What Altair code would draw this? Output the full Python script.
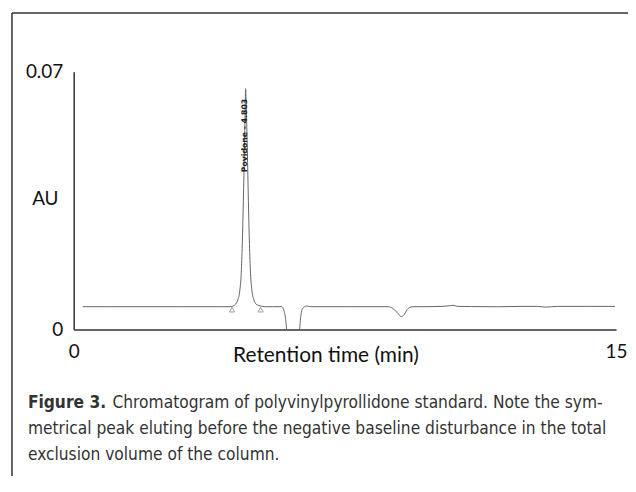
import altair as alt
import pandas as pd

# Chromatogram trace (time in min, absorbance in AU)
time = [0.25, 1.0, 2.0, 3.0, 4.0, 4.349, 4.459, 4.542, 4.597, 4.638, 4.666, 4.693, 4.721, 4.743, 4.754,
        4.775, 4.803, 4.831, 4.858, 4.886, 4.927, 4.982, 5.065, 5.175, 5.285, 5.5, 5.753, 5.808, 5.863,
        5.89, 6.056, 6.248, 6.276, 6.317, 6.386, 6.44, 6.55, 7.5, 8.698, 8.836, 8.973, 9.056, 9.138,
        9.221, 9.304, 9.414, 9.8, 10.35, 10.49, 10.62, 11.0, 11.73, 12.4, 12.83, 13.05, 13.38, 14.2, 14.97]
au = [0.00622, 0.00622, 0.00622, 0.00622, 0.00622, 0.00622, 0.00676, 0.00811, 0.01081, 0.01622, 0.02432,
      0.03514, 0.04865, 0.05946, 0.06541, 0.05946, 0.04865, 0.03514, 0.02432, 0.01622, 0.01081, 0.00811,
      0.00676, 0.00640, 0.00622, 0.00622, 0.00622, 0.00540, 0.00270, 0.0, -0.01, 0.0, 0.00320, 0.00540,
      0.00622, 0.00640, 0.00622, 0.00622, 0.00622, 0.00568, 0.00432, 0.00351, 0.00405, 0.00540, 0.00608,
      0.00622, 0.00622, 0.00640, 0.00660, 0.00630, 0.00625, 0.00620, 0.00630, 0.00630, 0.00610, 0.00630,
      0.00630, 0.00630]

# Integration baseline markers
marker_time = [4.38, 5.17]
marker_au = [0.0054, 0.0054]

peak_label = "Povidone - 4.803"
peak_time = 4.745
peak_label_au = 0.0527

x_ticks = [0, 15]
y_ticks = [0, 0.07]
x_title = "Retention time (min)"
y_title = "AU"

caption_bold = "Figure 3."
caption_lines = [
    "Chromatogram of polyvinylpyrollidone standard. Note the sym-",
    "metrical peak eluting before the negative baseline disturbance in the total",
    "exclusion volume of the column.",
]

trace = pd.DataFrame({"t": time, "au": au})
markers = pd.DataFrame({"t": marker_time, "au": marker_au})
label_df = pd.DataFrame({"t": [peak_time], "au": [peak_label_au], "label": [peak_label]})

W, H = 545, 259

xs = alt.Scale(domain=[0, 15], nice=False, zero=False)
ys = alt.Scale(domain=[0, 0.07], nice=False, zero=False)

x_axis = alt.Axis(values=x_ticks, format="d", ticks=False, grid=False, domain=True, labelFlush=False,
                  labelFontSize=19, labelFont="Lato", labelColor="#111", labelPadding=13,
                  title=x_title, titleFont="Lato", titleFontSize=21, titleFontWeight="normal",
                  titleColor="#111", titleX=253, titleY=26, titleBaseline="middle",
                  domainColor="#333", domainWidth=1.5)
y_axis = alt.Axis(values=y_ticks, format=".2~f", ticks=False, grid=False, domain=True,
                  labelFontSize=19, labelFont="Lato", labelColor="#111", labelPadding=11,
                  title=y_title, titleFont="Lato", titleFontSize=19, titleFontWeight="normal",
                  titleColor="#111", titleAngle=0, titleX=-29, titleY=127, titleAlign="center",
                  titleBaseline="middle", domainColor="#333", domainWidth=1.5)

line = alt.Chart(trace).mark_line(color="#666", strokeWidth=1, clip=True, interpolate="monotone").encode(
    x=alt.X("t:Q", scale=xs, axis=x_axis),
    y=alt.Y("au:Q", scale=ys, axis=y_axis),
    order="t:Q",
)

pts = alt.Chart(markers).mark_point(shape="triangle-up", filled=False, color="#777", size=28,
                                      strokeWidth=1).encode(
    x=alt.X("t:Q", scale=xs), y=alt.Y("au:Q", scale=ys))

lbl = alt.Chart(label_df).mark_text(angle=270, font="DejaVu Sans", fontSize=7.8, fontWeight="bold",
                                     color="#222", align="center", baseline="middle").encode(
    x=alt.X("t:Q", scale=xs), y=alt.Y("au:Q", scale=ys), text="label:N")

# Figure frame and caption (decoration outside the plot area)
frame_left = alt.Chart(pd.DataFrame({"a": [0]})).mark_rule(color="#333", strokeWidth=1.5).encode(
    x=alt.value(-62), y=alt.value(-59), y2=alt.value(500))
frame_top = alt.Chart(pd.DataFrame({"a": [0]})).mark_rule(color="#333", strokeWidth=1.5).encode(
    x=alt.value(-62), x2=alt.value(600), y=alt.value(-59))

cap_font = "DejaVu Sans Condensed, Roboto Condensed, Roboto"
cap_size = 17.3
cap_bold = alt.Chart(pd.DataFrame({"s": [caption_bold]})).mark_text(
    font=cap_font, fontSize=cap_size, fontWeight="bold", color="#333", align="left", baseline="alphabetic"
).encode(x=alt.value(-46), y=alt.value(338), text="s:N")

cap1 = alt.Chart(pd.DataFrame({"s": [caption_lines[0]]})).mark_text(
    font=cap_font, fontSize=cap_size, color="#333", align="left", baseline="alphabetic"
).encode(x=alt.value(39), y=alt.value(338), text="s:N")
cap2 = alt.Chart(pd.DataFrame({"s": [caption_lines[1]]})).mark_text(
    font=cap_font, fontSize=cap_size, color="#333", align="left", baseline="alphabetic"
).encode(x=alt.value(-46), y=alt.value(364), text="s:N")
cap3 = alt.Chart(pd.DataFrame({"s": [caption_lines[2]]})).mark_text(
    font=cap_font, fontSize=cap_size, color="#333", align="left", baseline="alphabetic"
).encode(x=alt.value(-46), y=alt.value(390), text="s:N")

chart = alt.layer(line, pts, lbl, frame_left, frame_top, cap_bold, cap1, cap2, cap3).properties(
    width=W, height=H,
    autosize=alt.AutoSizeParams(type="none"),
    padding={"left": 66, "top": 63, "right": 12, "bottom": 146},
    background="white",
).configure_view(stroke=None)

chart.save("out.html", embed_options={"renderer": "svg", "actions": False})
